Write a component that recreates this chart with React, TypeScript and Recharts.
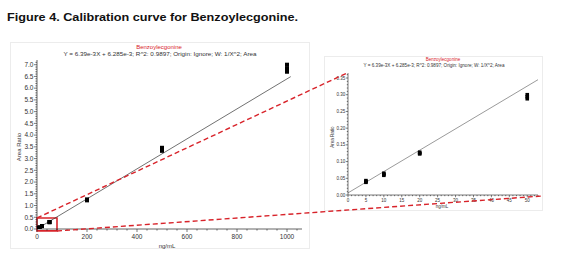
import React from 'react';
import { ComposedChart, Scatter, Line, XAxis, YAxis, ReferenceArea } from 'recharts';

// ---- data ----
const concentrations = [5, 10, 20, 50, 200, 500, 1000];
const replicateA = [0.038, 0.059, 0.123, 0.288, 1.22, 3.33, 6.7];
const replicateB = [0.04, 0.062, 0.125, 0.294, 1.24, 3.4, 6.85];
const replicateC = [0.043, 0.065, 0.128, 0.3, 1.26, 3.46, 7.0];

const SLOPE = 6.39e-3;
const INTERCEPT = 6.285e-3;
const fitLeftX = [0, 1015];
const fitRightX = [0, 53.3];

const leftXLabels = [0, 200, 400, 600, 800, 1000];
const leftYLabels = [0, 0.5, 1, 1.5, 2, 2.5, 3, 3.5, 4, 4.5, 5, 5.5, 6, 6.5, 7];
const rightXLabels = [0, 5, 10, 15, 20, 25, 30, 35, 40, 45, 50];
const rightYLabels = [0, 0.05, 0.1, 0.15, 0.2, 0.25, 0.3, 0.35];

const leftXTicks = Array.from({ length: 27 }, (_, i) => i * 40).filter((v) => v <= 1060);
const leftYTicks = Array.from({ length: 72 }, (_, i) => i / 10);
const rightXTicks = Array.from({ length: 54 }, (_, i) => i);
const rightYTicks = Array.from({ length: 37 }, (_, i) => i / 100);

const allPoints = concentrations.flatMap((c, i) => [
  { x: c, y: replicateA[i] },
  { x: c, y: replicateB[i] },
  { x: c, y: replicateC[i] },
]);
const rightPoints = allPoints.filter((p) => p.x <= 50);
const fitLeft = fitLeftX.map((x) => ({ x, y: SLOPE * x + INTERCEPT }));
const fitRight = fitRightX.map((x) => ({ x, y: SLOPE * x + INTERCEPT }));

const FONT = '"Liberation Sans", Arial, sans-serif';
const RED = '#d8232a';

const isMajor = (v: number, labels: number[]) => labels.some((l) => Math.abs(l - v) < 1e-6);

const makeXTick = (labels: number[], fs: number, major: number, minor: number, fmt: (v: number) => string) =>
  (props: any) => {
    const { x, y, payload } = props;
    const v = payload.value;
    const m = isMajor(v, labels);
    return (
      <g>
        <line x1={x} x2={x} y1={y} y2={y + (m ? major : minor)} stroke="#222" strokeWidth={0.6} />
        {m && (
          <text x={x} y={y + major + fs + 0.5} textAnchor="middle" fontSize={fs} fill="#333" fontFamily={FONT}>
            {fmt(v)}
          </text>
        )}
      </g>
    );
  };

const makeYTick = (labels: number[], fs: number, major: number, minor: number, fmt: (v: number) => string) =>
  (props: any) => {
    const { x, y, payload } = props;
    const v = payload.value;
    const m = isMajor(v, labels);
    return (
      <g>
        <line x1={x - (m ? major : minor)} x2={x} y1={y} y2={y} stroke="#222" strokeWidth={0.6} />
        {m && (
          <text x={x - major - 0.5} y={y + fs * 0.35} textAnchor="end" fontSize={fs} fill="#333" fontFamily={FONT}>
            {fmt(v)}
          </text>
        )}
      </g>
    );
  };

const squareLeft = (props: any) => {
  const { cx, cy } = props;
  return <rect x={cx - 2} y={cy - 2} width={4} height={4} fill="#000" />;
};
const squareRight = (props: any) => {
  const { cx, cy } = props;
  return <rect x={cx - 1.8} y={cy - 1.8} width={3.6} height={3.6} fill="#000" />;
};

export default function App() {
  return (
    <div style={{ position: 'absolute', left: 0, top: 0, width: 576, height: 261, background: '#fff', overflow: 'hidden' }}>
      {/* panel frames & headings */}
      <svg width={576} height={261} style={{ position: 'absolute', left: 0, top: 0 }}>
        <text x={7} y={21} fontSize={11.5} fontWeight="bold" fontFamily={FONT} fill="#111" textLength={291} lengthAdjust="spacingAndGlyphs">
          Figure 4. Calibration curve for Benzoylecgonine.
        </text>
        <rect x={10.5} y={42.5} width={299} height={206} fill="none" stroke="#ececec" strokeWidth={1} />
        <rect x={324.5} y={56.5} width={218} height={154} fill="none" stroke="#ececec" strokeWidth={1} />
        <text x={159} y={49} textAnchor="middle" fontSize={6} fill={RED} fontFamily={FONT}>Benzoylecgonine</text>
        <text x={160} y={56} textAnchor="middle" fontSize={5.8} fill="#333" fontFamily={FONT} textLength={193} lengthAdjust="spacingAndGlyphs">
          Y = 6.39e-3X + 6.285e-3; R^2: 0.9897; Origin: Ignore; W: 1/X^2; Area
        </text>
        <text x={443} y={61} textAnchor="middle" fontSize={4.5} fill={RED} fontFamily={FONT}>Benzoylecgonine</text>
        <text x={434} y={66.5} textAnchor="middle" fontSize={4.5} fill="#333" fontFamily={FONT} textLength={141} lengthAdjust="spacingAndGlyphs">
          Y = 6.39e-3X + 6.285e-3; R^2: 0.9897; Origin: Ignore; W: 1/X^2; Area
        </text>
        <text x={21} y={147} textAnchor="middle" fontSize={6} fill="#333" fontFamily={FONT} transform="rotate(-90 21 147)">Area Ratio</text>
        <text x={167} y={248} textAnchor="middle" fontSize={6} fill="#333" fontFamily={FONT}>ng/mL</text>
        <text x={334} y={137} textAnchor="middle" fontSize={4.5} fill="#333" fontFamily={FONT} transform="rotate(-90 334 137)">Area Ratio</text>
        <text x={442} y={208} textAnchor="middle" fontSize={4.5} fill="#333" fontFamily={FONT}>ng/mL</text>
      </svg>

      <div style={{ position: 'absolute', left: 0, top: 0 }}>
        <ComposedChart width={310} height={261} margin={{ top: 60, right: 8, bottom: 12, left: 12 }}>
          <XAxis
            type="number"
            dataKey="x"
            domain={[0, 1060]}
            ticks={leftXTicks}
            interval={0}
            tickSize={0}
            tickMargin={0}
            tickLine={false}
            height={20}
            axisLine={{ stroke: '#222', strokeWidth: 0.7 }}
            tick={makeXTick(leftXLabels, 6.5, 3, 1.6, (v) => String(v))}
            allowDataOverflow
          />
          <YAxis
            type="number"
            dataKey="y"
            domain={[0, 7.2]}
            ticks={leftYTicks}
            interval={0}
            tickSize={0}
            tickMargin={0}
            tickLine={false}
            width={25}
            axisLine={{ stroke: '#222', strokeWidth: 0.7 }}
            tick={makeYTick(leftYLabels, 6.5, 3, 1.6, (v) => v.toFixed(1))}
            allowDataOverflow
          />
          <Line data={fitLeft} dataKey="y" type="linear" stroke="#333" strokeWidth={0.7} dot={false} isAnimationActive={false} />
          <Scatter data={allPoints} dataKey="y" shape={squareLeft} isAnimationActive={false} />
          <ReferenceArea
            x1={0}
            x2={80}
            y1={-0.08}
            y2={0.47}
            fill="none"
            fillOpacity={0}
            stroke={RED}
            strokeOpacity={1}
            strokeWidth={1.6}
            ifOverflow="visible"
          />
        </ComposedChart>
      </div>

      <div style={{ position: 'absolute', left: 324, top: 56 }}>
        <ComposedChart width={219} height={155} margin={{ top: 17, right: 5, bottom: 6, left: 6 }}>
          <XAxis
            type="number"
            dataKey="x"
            domain={[0, 53]}
            ticks={rightXTicks}
            interval={0}
            tickSize={0}
            tickMargin={0}
            tickLine={false}
            height={10}
            axisLine={{ stroke: '#222', strokeWidth: 0.6 }}
            tick={makeXTick(rightXLabels, 4.5, 2.2, 1.2, (v) => String(v))}
            allowDataOverflow
          />
          <YAxis
            type="number"
            dataKey="y"
            domain={[0, 0.365]}
            ticks={rightYTicks}
            interval={0}
            tickSize={0}
            tickMargin={0}
            tickLine={false}
            width={18}
            axisLine={{ stroke: '#222', strokeWidth: 0.6 }}
            tick={makeYTick(rightYLabels, 4.5, 2.2, 1.2, (v) => v.toFixed(2))}
            allowDataOverflow
          />
          <Line data={fitRight} dataKey="y" type="linear" stroke="#555" strokeWidth={0.6} dot={false} isAnimationActive={false} />
          <Scatter data={rightPoints} dataKey="y" shape={squareRight} isAnimationActive={false} />
        </ComposedChart>
      </div>

      {/* zoom connector lines */}
      <svg width={576} height={261} style={{ position: 'absolute', left: 0, top: 0, pointerEvents: 'none' }}>
        <line x1={37} y1={218} x2={347} y2={73} stroke={RED} strokeWidth={1.4} strokeDasharray="5 3" />
        <line x1={57} y1={231} x2={542} y2={196} stroke={RED} strokeWidth={1.4} strokeDasharray="5 3" />
      </svg>
    </div>
  );
}
